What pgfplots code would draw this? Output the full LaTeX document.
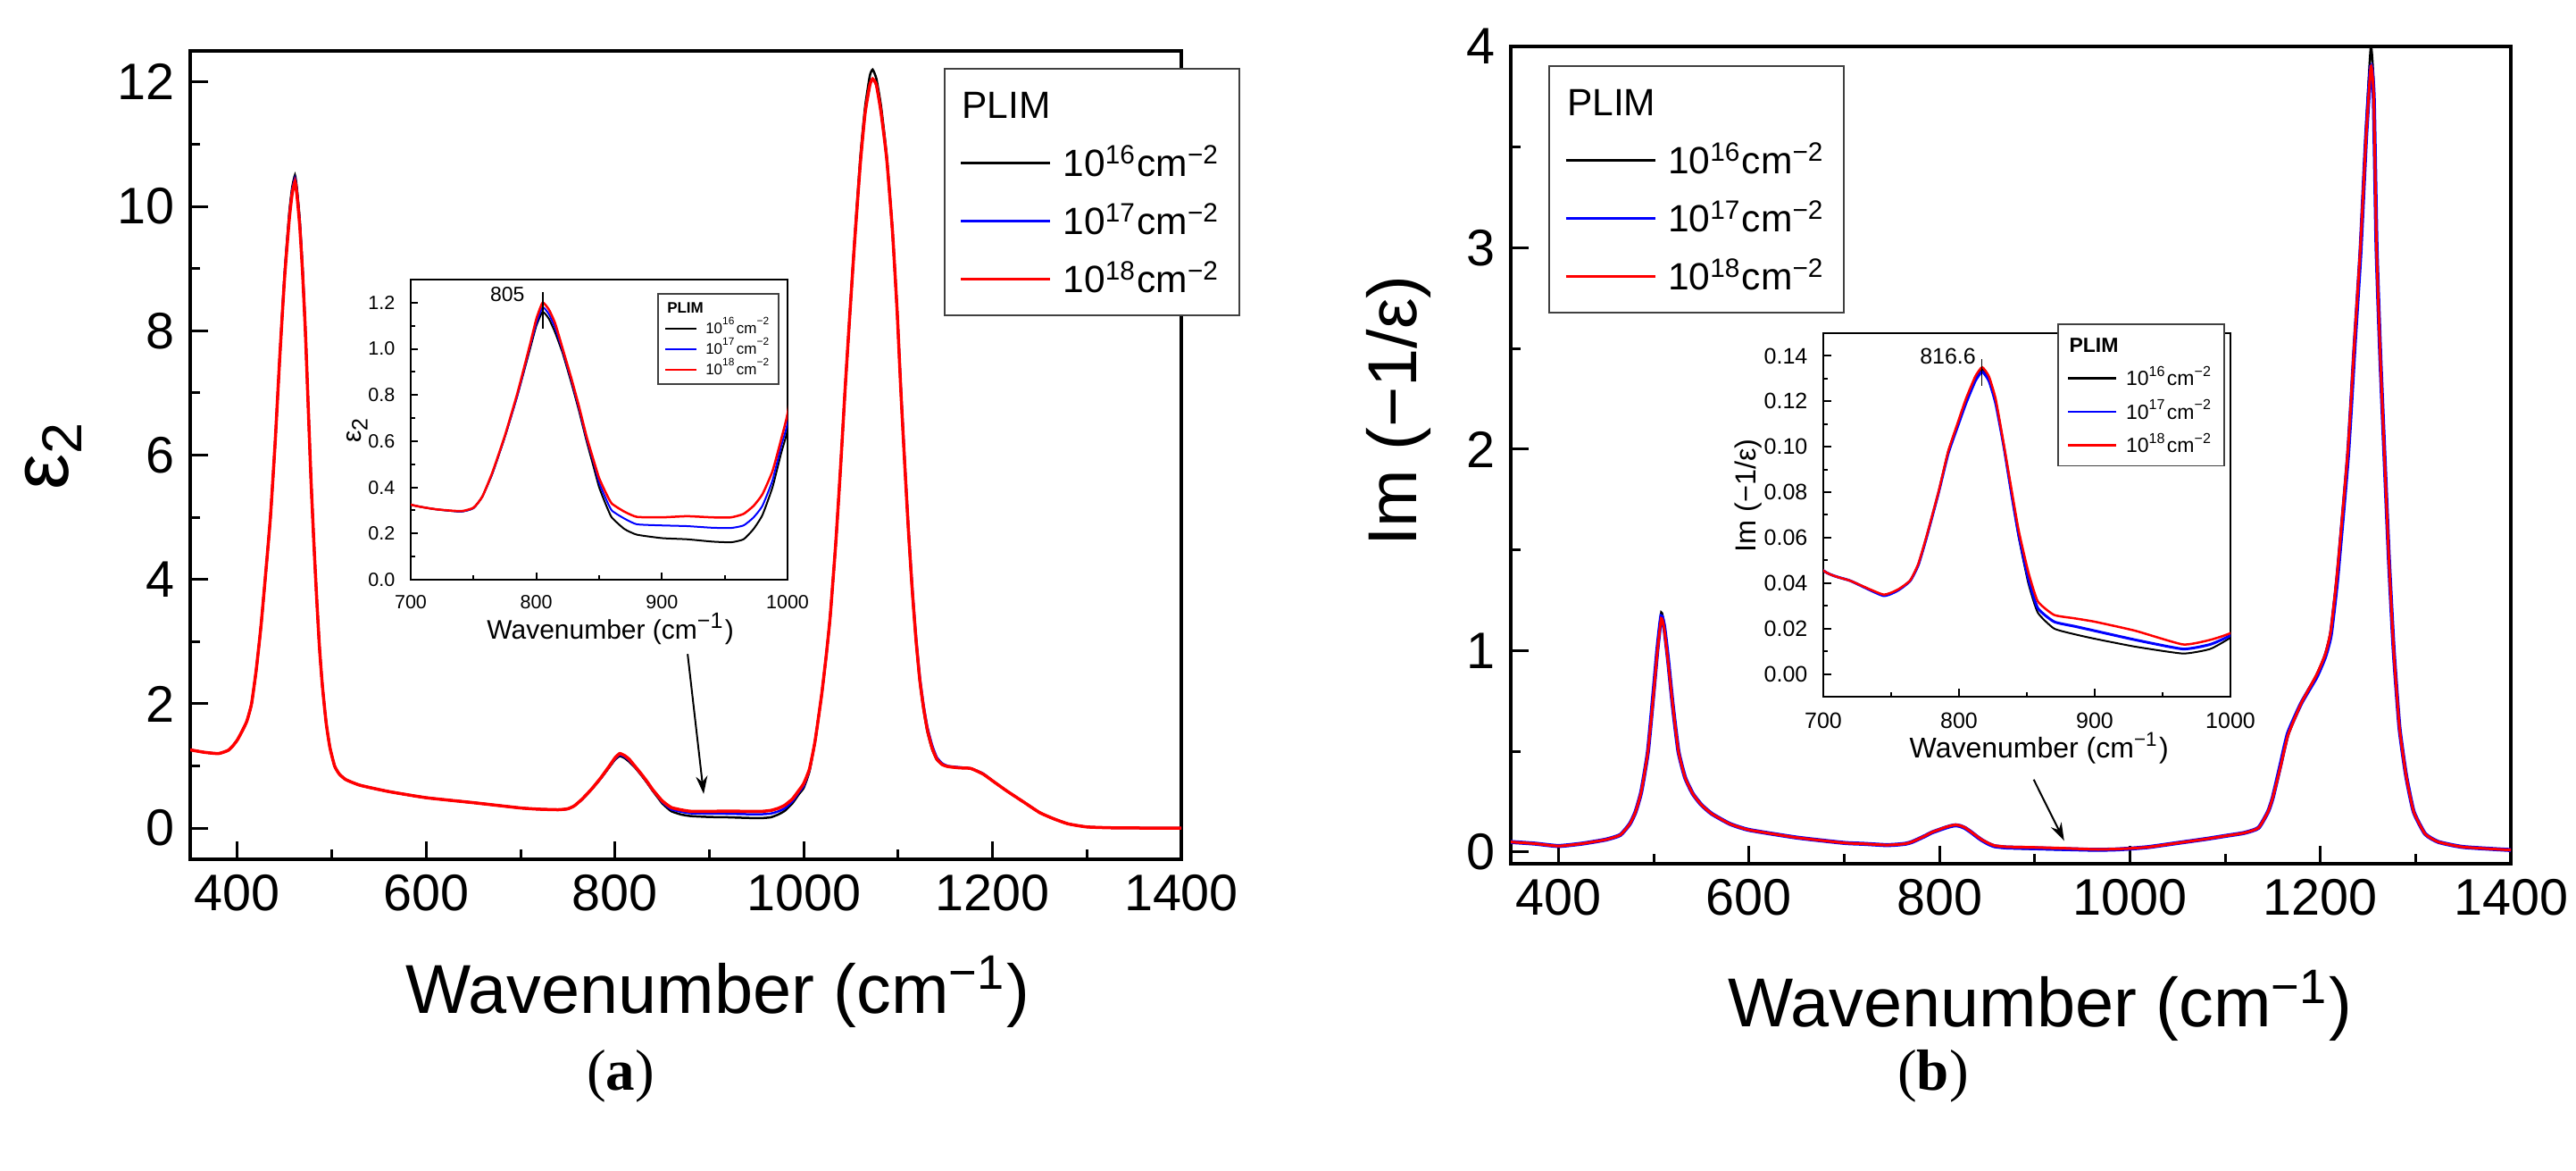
\documentclass[border=0pt]{standalone}
\usepackage{fontspec}
\setmainfont{Liberation Sans}
\newfontfamily\timesfont{Liberation Serif}
\usepackage{pgfplots}
\usepackage{pgfplotstable}
\pgfplotsset{compat=1.18}
\usetikzlibrary{arrows.meta}

% panel (a): x, 1e16 (k), 1e17 (b), 1e18 (r)
\pgfplotstableread{
x k b r
350 1.26 1.26 1.26
365 1.22 1.22 1.22
380 1.20 1.20 1.20
390 1.25 1.25 1.25
395 1.32 1.32 1.32
400 1.42 1.42 1.42
405 1.56 1.56 1.56
410 1.72 1.72 1.72
415 2.0 2.0 2.0
420 2.55 2.55 2.55
425 3.25 3.25 3.25
430 4.1 4.1 4.1
435 5.0 5.0 5.0
440 6.2 6.2 6.2
445 7.6 7.6 7.6
450 8.9 8.9 8.85
455 9.9 9.85 9.8
458 10.3 10.25 10.2
461 10.5 10.45 10.4
463 10.3 10.25 10.2
466 9.8 9.75 9.7
469 9.0 9.0 8.95
472 8.0 8.0 8.0
475 6.8 6.8 6.8
478 5.6 5.6 5.6
481 4.6 4.6 4.6
484 3.7 3.7 3.7
487 2.9 2.9 2.9
490 2.3 2.3 2.3
494 1.7 1.7 1.7
498 1.3 1.3 1.3
503 1.0 1.0 1.0
508 0.87 0.87 0.87
515 0.78 0.78 0.78
530 0.69 0.69 0.69
560 0.59 0.59 0.59
600 0.49 0.49 0.49
650 0.41 0.41 0.41
700 0.325 0.325 0.325
720 0.305 0.305 0.305
740 0.295 0.295 0.297
750 0.31 0.31 0.312
757 0.36 0.36 0.36
765 0.46 0.46 0.465
775 0.62 0.62 0.625
785 0.80 0.80 0.81
795 1.0 1.01 1.02
800 1.10 1.11 1.13
805 1.16 1.18 1.20
810 1.13 1.15 1.17
815 1.07 1.09 1.11
821 0.98 0.99 1.0
828 0.85 0.86 0.87
834 0.73 0.74 0.75
840 0.60 0.61 0.62
846 0.48 0.50 0.51
850 0.40 0.42 0.44
855 0.33 0.355 0.38
860 0.27 0.30 0.33
870 0.22 0.265 0.295
880 0.195 0.24 0.272
900 0.18 0.235 0.27
920 0.175 0.232 0.275
940 0.165 0.225 0.27
955 0.162 0.224 0.27
965 0.175 0.235 0.285
973 0.22 0.27 0.32
980 0.28 0.32 0.37
988 0.40 0.43 0.47
995 0.55 0.58 0.61
1000 0.65 0.68 0.72
1006 0.91 0.93 0.95
1012 1.4 1.4 1.4
1019 2.15 2.15 2.15
1024 2.8 2.8 2.8
1028 3.4 3.4 3.4
1034 4.6 4.6 4.6
1039 5.8 5.8 5.8
1044 7.1 7.1 7.1
1049 8.3 8.3 8.3
1054 9.5 9.45 9.45
1060 10.8 10.7 10.7
1065 11.6 11.5 11.5
1070 12.1 11.95 11.95
1073 12.2 12.05 12.05
1077 12.05 11.95 11.95
1082 11.6 11.5 11.5
1088 10.8 10.75 10.75
1094 9.6 9.6 9.6
1099 8.3 8.3 8.3
1103 7.0 7.05 7.0
1107 5.85 5.9 5.85
1111 4.75 4.82 4.77
1115 3.8 3.88 3.82
1119 3.0 3.08 3.02
1123 2.35 2.44 2.38
1127 1.9 1.98 1.93
1131 1.55 1.63 1.58
1136 1.27 1.34 1.29
1141 1.1 1.14 1.11
1147 1.02 1.04 1.02
1153 0.99 1.0 0.99
1165 0.97 0.98 0.97
1177 0.96 0.96 0.96
1190 0.87 0.88 0.87
1202 0.74 0.74 0.74
1215 0.60 0.60 0.60
1233 0.42 0.42 0.42
1250 0.25 0.25 0.25
1265 0.15 0.15 0.15
1280 0.07 0.07 0.07
1300 0.02 0.02 0.02
1330 0.005 0.005 0.005
1400 0.0 0.0 0.0
}\tabA

% panel (b)
\pgfplotstableread{
x k b r
350 0.050 0.050 0.050
375 0.042 0.042 0.042
400 0.030 0.030 0.030
425 0.042 0.042 0.042
450 0.062 0.062 0.062
465 0.085 0.085 0.085
475 0.14 0.14 0.14
481 0.20 0.20 0.20
487 0.30 0.30 0.30
494 0.50 0.50 0.50
500 0.80 0.80 0.79
504 1.02 1.01 1.00
508 1.19 1.17 1.16
511 1.13 1.12 1.11
515 0.96 0.96 0.95
520 0.73 0.73 0.73
526 0.50 0.50 0.50
533 0.37 0.37 0.37
541 0.29 0.29 0.29
550 0.235 0.235 0.235
561 0.19 0.19 0.19
580 0.14 0.14 0.14
600 0.11 0.11 0.11
650 0.072 0.072 0.072
700 0.0455 0.0455 0.0455
720 0.041 0.041 0.041
744 0.0347 0.0345 0.035
755 0.037 0.0368 0.0372
764 0.041 0.041 0.0412
770 0.048 0.048 0.0485
776 0.060 0.060 0.0605
785 0.080 0.080 0.0805
792 0.098 0.097 0.098
799 0.110 0.109 0.1105
805 0.120 0.119 0.121
812 0.130 0.129 0.131
817 0.134 0.133 0.135
822 0.130 0.129 0.131
827 0.120 0.119 0.121
833 0.100 0.100 0.101
839 0.078 0.078 0.080
844 0.060 0.061 0.063
851 0.040 0.042 0.045
858 0.027 0.029 0.032
870 0.020 0.023 0.026
885 0.0175 0.021 0.0245
900 0.0155 0.019 0.023
930 0.012 0.015 0.019
965 0.009 0.011 0.013
985 0.011 0.013 0.015
1000 0.016 0.017 0.018
1020 0.025 0.025 0.025
1050 0.045 0.045 0.045
1080 0.065 0.065 0.065
1100 0.08 0.08 0.08
1120 0.095 0.095 0.095
1135 0.12 0.12 0.12
1145 0.20 0.20 0.20
1150 0.27 0.27 0.27
1158 0.42 0.43 0.42
1166 0.58 0.59 0.58
1180 0.74 0.74 0.74
1196 0.88 0.87 0.88
1205 0.98 0.97 0.98
1211 1.1 1.08 1.1
1218 1.4 1.37 1.4
1229 2.0 1.97 2.0
1236 2.55 2.52 2.55
1242 3.0 2.97 3.0
1248 3.6 3.55 3.55
1253 4.0 3.9 3.9
1256 3.8 3.75 3.75
1259 3.0 3.0 3.0
1263 2.45 2.45 2.45
1267 2.0 2.0 2.0
1272 1.45 1.45 1.45
1277 1.0 1.0 1.0
1283 0.62 0.62 0.62
1290 0.38 0.38 0.38
1298 0.2 0.2 0.2
1310 0.09 0.09 0.09
1324 0.05 0.05 0.05
1350 0.025 0.025 0.025
1400 0.01 0.01 0.01
}\tabB

\pgfplotsset{
  common/.style={scale only axis, anchor=south west, tick align=inside,
    xtick pos=bottom, ytick pos=left,
    /pgf/number format/assume math mode=true, /pgf/number format/1000 sep={},
    tick style={black}, legend cell align=left},
  mainax/.style={common, xmin=350, xmax=1400,
    xtick={400,600,800,1000,1200,1400}, minor xtick={500,700,900,1100,1300},
    major tick length=4pt, minor tick length=2.2pt, tick style={line width=0.6pt},
    axis line style={line width=0.8pt},
    ticklabel style={font=\fontsize{11.5}{13}\selectfont},
    xlabel={Wavenumber (cm\textsuperscript{−1})},
    xlabel style={font=\fontsize{15.5}{18}\selectfont, anchor=center},
    ylabel style={anchor=center},
    legend style={draw=black!75, line width=0.4pt, fill=white,
      font=\fontsize{8.5}{10}\selectfont, inner xsep=3.4pt, inner ysep=2.3pt, row sep=1.4pt,
      nodes={inner sep=0.8pt, text height=8pt, text depth=2pt},
      /tikz/every odd column/.append style={column sep=1.8pt}},
    legend image code/.code={\draw[line width=0.6pt,##1] (0pt,0pt) -- (20pt,0pt);},
  },
  insetax/.style={common, xmin=700, xmax=1000, xtick={700,800,900,1000}, minor xtick={750,850,950},
    axis line style={line width=0.5pt}, tick style={line width=0.4pt},
    axis background/.style={fill=white},
    xlabel={Wavenumber (cm\textsuperscript{−1})}},
}

\begin{document}
\begin{tikzpicture}
\path[use as bounding box] (0pt,0pt) rectangle (577pt,262pt);

% ---------- (a) main ----------
\begin{axis}[mainax, at={(42.6pt,69.6pt)}, width=222pt, height=181pt,
  ymin=-0.5, ymax=12.5, ytick={0,2,4,6,8,10,12}, minor ytick={1,3,5,7,9,11},
  xlabel style={at={(axis description cs:0.532,-0.164)}},
  ylabel={ε\textsubscript{2}},
  ylabel style={font=\fontsize{18}{20}\selectfont, at={(axis description cs:-0.138,0.5)}},
  legend style={at={(1.059,0.979)}, anchor=north east}]
\addlegendimage{empty legend}
\addlegendentry{\makebox[0pt][l]{\hspace*{-22.6pt}PLIM}}
\addplot[black, line width=0.5pt, smooth, tension=0.3] table[x=x,y=k] {\tabA};
\addlegendentry{10\textsuperscript{16}cm\textsuperscript{−2}}
\addplot[blue, line width=0.5pt, smooth, tension=0.3] table[x=x,y=b] {\tabA};
\addlegendentry{10\textsuperscript{17}cm\textsuperscript{−2}}
\addplot[red, line width=0.7pt, smooth, tension=0.3] table[x=x,y=r] {\tabA};
\addlegendentry{10\textsuperscript{18}cm\textsuperscript{−2}}
\draw[-{Stealth[length=4pt,width=2.6pt]}, line width=0.4pt] (axis cs:877,2.8) -- (axis cs:894,0.55);
\end{axis}

% ---------- (a) inset ----------
\begin{axis}[insetax, at={(92pt,132.2pt)}, width=84.4pt, height=67.2pt,
  ymin=0, ymax=1.3, ytick={0,0.2,0.4,0.6,0.8,1.0,1.2}, minor ytick={0.1,0.3,0.5,0.7,0.9,1.1},
  major tick length=1.6pt, minor tick length=0.9pt,
  ticklabel style={font=\fontsize{4.3}{5}\selectfont},
  yticklabel style={/pgf/number format/fixed, /pgf/number format/fixed zerofill, /pgf/number format/precision=1},
  xlabel style={font=\fontsize{6}{7}\selectfont, at={(axis description cs:0.53,-0.164)}, anchor=center},
  ylabel={ε\textsubscript{2}},
  ylabel style={font=\fontsize{6}{7}\selectfont, at={(axis description cs:-0.142,0.5)}, anchor=center},
  legend style={at={(0.654,0.955)}, anchor=north west, draw=black!75, line width=0.3pt, fill=white,
    font=\fontsize{3.4}{4}\selectfont, inner xsep=1.4pt, inner ysep=0.9pt, row sep=0pt,
    nodes={inner sep=0.3pt, text height=3.2pt, text depth=0.8pt},
    /tikz/every odd column/.append style={column sep=1.5pt}},
  legend image code/.code={\draw[line width=0.5pt,#1] (0pt,0pt) -- (7pt,0pt);}]
\addlegendimage{empty legend}
\addlegendentry{\makebox[0pt][l]{\hspace*{-8.8pt}\textbf{PLIM}}}
\addplot[black, line width=0.4pt, smooth, tension=0.3] table[x=x,y=k] {\tabA};
\addlegendentry{10\textsuperscript{16}cm\textsuperscript{−2}}
\addplot[blue, line width=0.4pt, smooth, tension=0.3] table[x=x,y=b] {\tabA};
\addlegendentry{10\textsuperscript{17}cm\textsuperscript{−2}}
\addplot[red, line width=0.5pt, smooth, tension=0.3] table[x=x,y=r] {\tabA};
\addlegendentry{10\textsuperscript{18}cm\textsuperscript{−2}}
\draw[line width=0.4pt] (axis cs:805,1.245) -- (axis cs:805,1.087);
\node[font=\fontsize{4.6}{5}\selectfont] at (axis cs:777,1.235) {805};
\end{axis}

% ---------- (b) main ----------
\begin{axis}[mainax, at={(338.4pt,68.6pt)}, width=224pt, height=183pt,
  ymin=-0.058, ymax=4, ytick={0,1,2,3,4}, minor ytick={0.5,1.5,2.5,3.5},
  xlabel style={at={(axis description cs:0.529,-0.174)}},
  ylabel={Im (−1/ε)},
  ylabel style={font=\fontsize{15.5}{18}\selectfont, at={(axis description cs:-0.1125,0.554)}},
  legend style={at={(0.0375,0.977)}, anchor=north west}]
\addlegendimage{empty legend}
\addlegendentry{\makebox[0pt][l]{\hspace*{-22.6pt}PLIM}}
\addplot[black, line width=0.5pt, smooth, tension=0.3] table[x=x,y=k] {\tabB};
\addlegendentry{10\textsuperscript{16}cm\textsuperscript{−2}}
\addplot[blue, line width=0.9pt, smooth, tension=0.3] table[x=x,y=b] {\tabB};
\addlegendentry{10\textsuperscript{17}cm\textsuperscript{−2}}
\addplot[red, line width=0.6pt, smooth, tension=0.3] table[x=x,y=r] {\tabB};
\addlegendentry{10\textsuperscript{18}cm\textsuperscript{−2}}
\draw[-{Stealth[length=4pt,width=2.6pt]}, line width=0.4pt] (axis cs:899,0.36) -- (axis cs:931,0.056);
\end{axis}

% ---------- (b) inset ----------
\begin{axis}[insetax, at={(408.4pt,106pt)}, width=91.2pt, height=81.4pt,
  ymin=-0.01, ymax=0.15, ytick={0,0.02,0.04,0.06,0.08,0.10,0.12,0.14},
  minor ytick={0.01,0.03,0.05,0.07,0.09,0.11,0.13},
  major tick length=1.8pt, minor tick length=1pt,
  ticklabel style={font=\fontsize{5}{6}\selectfont},
  yticklabel style={/pgf/number format/fixed, /pgf/number format/fixed zerofill, /pgf/number format/precision=2},
  xlabel style={font=\fontsize{6.4}{7.5}\selectfont, at={(axis description cs:0.53,-0.142)}, anchor=center},
  ylabel={Im (−1/ε)},
  ylabel style={font=\fontsize{6.5}{7.5}\selectfont, at={(axis description cs:-0.184,0.553)}, anchor=center},
  legend style={at={(0.575,1.027)}, anchor=north west, draw=black!75, line width=0.3pt, fill=white,
    font=\fontsize{4.6}{5.5}\selectfont, inner xsep=2pt, inner ysep=1.25pt, row sep=0.8pt,
    nodes={inner sep=0.5pt, text height=4.5pt, text depth=1.2pt},
    /tikz/every odd column/.append style={column sep=1.4pt}},
  legend image code/.code={\draw[line width=0.5pt,#1] (0pt,0pt) -- (10.8pt,0pt);}]
\addlegendimage{empty legend}
\addlegendentry{\makebox[0pt][l]{\hspace*{-12.7pt}\textbf{PLIM}}}
\addplot[black, line width=0.4pt, smooth, tension=0.3] table[x=x,y=k] {\tabB};
\addlegendentry{10\textsuperscript{16}cm\textsuperscript{−2}}
\addplot[blue, line width=0.6pt, smooth, tension=0.3] table[x=x,y=b] {\tabB};
\addlegendentry{10\textsuperscript{17}cm\textsuperscript{−2}}
\addplot[red, line width=0.5pt, smooth, tension=0.3] table[x=x,y=r] {\tabB};
\addlegendentry{10\textsuperscript{18}cm\textsuperscript{−2}}
\draw[line width=0.3pt] (axis cs:816.6,0.1384) -- (axis cs:816.6,0.1267);
\node[font=\fontsize{5}{6}\selectfont, anchor=east, inner sep=0.3pt] at (axis cs:814,0.1398) {816.6};
\end{axis}

\node[font=\timesfont\fontsize{13}{15}\selectfont] at (139pt,21pt) {(\textbf{a})};
\node[font=\timesfont\fontsize{13}{15}\selectfont] at (433pt,21pt) {(\textbf{b})};
\end{tikzpicture}
\end{document}
